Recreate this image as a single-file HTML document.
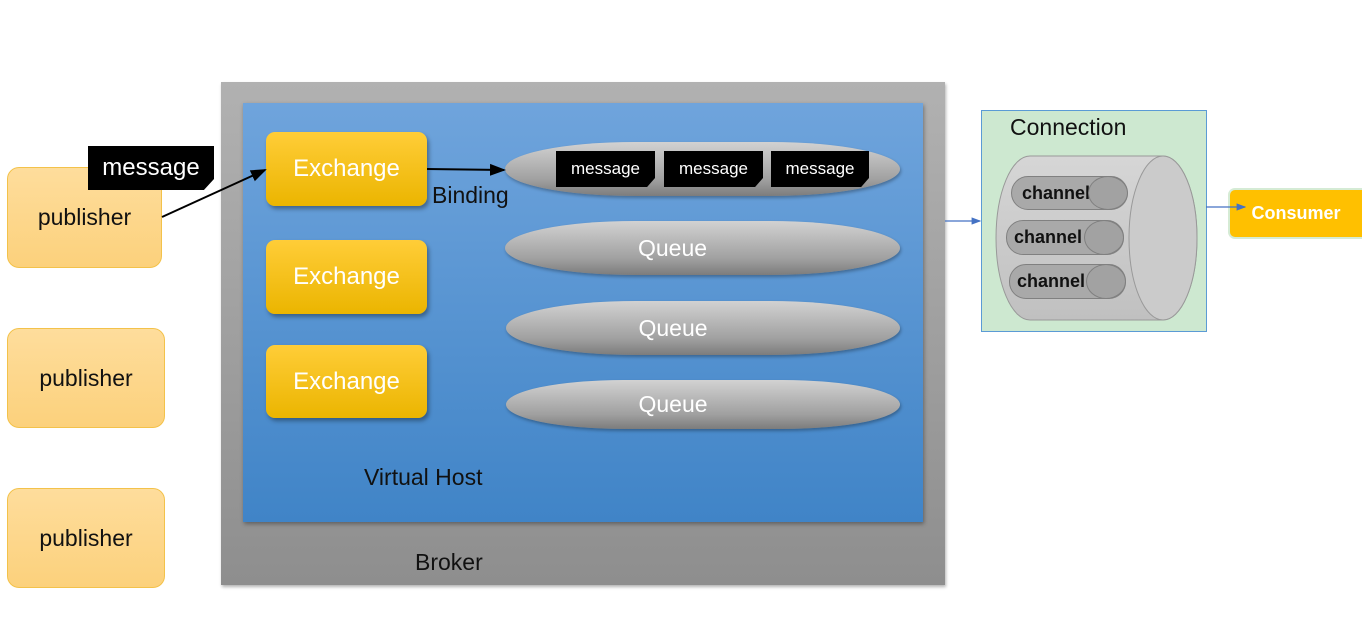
<!DOCTYPE html>
<html><head><meta charset="utf-8"><style>
body{margin:0;width:1362px;height:636px;background:#fff;position:relative;overflow:hidden;font-family:"Liberation Sans","DejaVu Sans",sans-serif}
.a{position:absolute;box-sizing:border-box}
.pub{background:linear-gradient(#fedd9c,#fcd17c);border:1px solid #f3c24a;border-radius:12px;display:flex;align-items:center;justify-content:center;font-size:23px;color:#111}
.ex{background:linear-gradient(#ffcd38,#ebb500);border-radius:9px;box-shadow:2px 3px 4px rgba(0,0,0,.35);color:#fff;font-size:24px;display:flex;align-items:center;justify-content:center}
.q{background:linear-gradient(#d2d2d2,#a0a0a0 70%,#7c7c7c);border-radius:130px/27px;color:#fff;font-size:23px;display:flex;align-items:center;justify-content:center;padding-right:60px;box-shadow:1px 2px 3px rgba(0,0,0,.3)}
.m{background:#000;color:#fff;display:flex;align-items:center;justify-content:center;clip-path:polygon(0 0,100% 0,100% 75%,92% 100%,0 100%)}
.ch{background:#a9a9a9;border:1px solid #808080;border-radius:17px;font-weight:bold;font-size:18px;color:#111;padding-left:10px;line-height:32px}
.ch i{position:absolute;right:-1px;top:-1px;width:38px;height:100%;border:1px solid #808080;border-radius:50%;background:#a2a2a2;box-sizing:content-box}
</style></head><body>
<div class="a" style="left:221px;top:82px;width:724px;height:503px;background:linear-gradient(#b1b1b1,#8e8e8e);box-shadow:1px 2px 3px rgba(0,0,0,.3)"></div>
<div class="a" style="left:243px;top:103px;width:680px;height:419px;background:linear-gradient(#6fa4dc,#4084c7);box-shadow:1px 2px 4px rgba(0,0,0,.35)"></div>
<div class="a pub" style="left:7px;top:167px;width:155px;height:101px">publisher</div>
<div class="a pub" style="left:7px;top:328px;width:158px;height:100px">publisher</div>
<div class="a pub" style="left:7px;top:488px;width:158px;height:100px">publisher</div>
<div class="a m" style="left:88px;top:146px;width:126px;height:44px;font-size:24px">message</div>
<div class="a ex" style="left:266px;top:132px;width:161px;height:74px">Exchange</div>
<div class="a ex" style="left:266px;top:240px;width:161px;height:74px">Exchange</div>
<div class="a ex" style="left:266px;top:345px;width:161px;height:73px">Exchange</div>
<div class="a q" style="left:505px;top:142px;width:395px;height:54px"></div>
<div class="a m" style="left:556px;top:151px;width:99px;height:36px;font-size:17px">message</div>
<div class="a m" style="left:664px;top:151px;width:99px;height:36px;font-size:17px">message</div>
<div class="a m" style="left:771px;top:151px;width:98px;height:36px;font-size:17px">message</div>
<div class="a q" style="left:505px;top:221px;width:395px;height:54px">Queue</div>
<div class="a q" style="left:506px;top:301px;width:394px;height:54px">Queue</div>
<div class="a q" style="left:506px;top:380px;width:394px;height:49px">Queue</div>
<div class="a" style="left:432px;top:182px;font-size:23px;color:#111">Binding</div>
<div class="a" style="left:364px;top:464px;font-size:23px;color:#111">Virtual Host</div>
<div class="a" style="left:415px;top:549px;font-size:23px;color:#111">Broker</div>
<div class="a" style="left:981px;top:110px;width:226px;height:222px;background:#cde8d0;border:1px solid #5b9bd5"></div>
<div class="a" style="left:1010px;top:114px;font-size:23px;color:#111">Connection</div>
<svg class="a" style="left:0;top:0" width="1362" height="636">
<defs><marker id="ar" markerWidth="8" markerHeight="8" refX="7" refY="4" orient="auto"><path d="M0,1 L8,4 L0,7z" fill="#000"/></marker>
<marker id="ab" markerWidth="8" markerHeight="8" refX="7" refY="4" orient="auto"><path d="M0,1 L8,4 L0,7z" fill="#4472c4"/></marker>
<linearGradient id="cg" x1="0" y1="0" x2="0" y2="1"><stop offset="0" stop-color="#d6d6d6"/><stop offset="1" stop-color="#c0c0c0"/></linearGradient></defs>
<line x1="162" y1="217" x2="265" y2="170" stroke="#000" stroke-width="2" marker-end="url(#ar)"/>
<line x1="427" y1="169" x2="504" y2="170" stroke="#000" stroke-width="2" marker-end="url(#ar)"/>
<line x1="945" y1="221" x2="980" y2="221" stroke="#4472c4" stroke-width="1.2" marker-end="url(#ab)"/>
<path d="M1030,156 H1163 A34,82 0 0 1 1163,320 H1030 A34,82 0 0 1 1030,156z" fill="url(#cg)" stroke="#999"/>
<ellipse cx="1163" cy="238" rx="34" ry="82" fill="#cbcbcb" stroke="#999"/>
</svg>
<div class="a ch" style="left:1011px;top:176px;width:117px;height:34px">channel<i></i></div>
<div class="a ch" style="left:1006px;top:220px;width:118px;height:35px;padding-left:7px">channel<i></i></div>
<div class="a ch" style="left:1009px;top:264px;width:117px;height:35px;padding-left:7px">channel<i></i></div>
<div class="a" style="left:1228px;top:188px;width:134px;height:51px;background:#ffc000;border:2px solid #d5ebd5;border-right:none;border-radius:7px 0 0 7px;color:#fff;font-weight:bold;font-size:18px;display:flex;align-items:center;justify-content:center">Consumer</div>
<svg class="a" style="left:0;top:0" width="1362" height="636"><line x1="1206" y1="207" x2="1245" y2="207" stroke="#4472c4" stroke-width="1.2" marker-end="url(#ab2)"/><defs><marker id="ab2" markerWidth="8" markerHeight="8" refX="7" refY="4" orient="auto"><path d="M0,1 L8,4 L0,7z" fill="#4472c4"/></marker></defs></svg>
</body></html>
